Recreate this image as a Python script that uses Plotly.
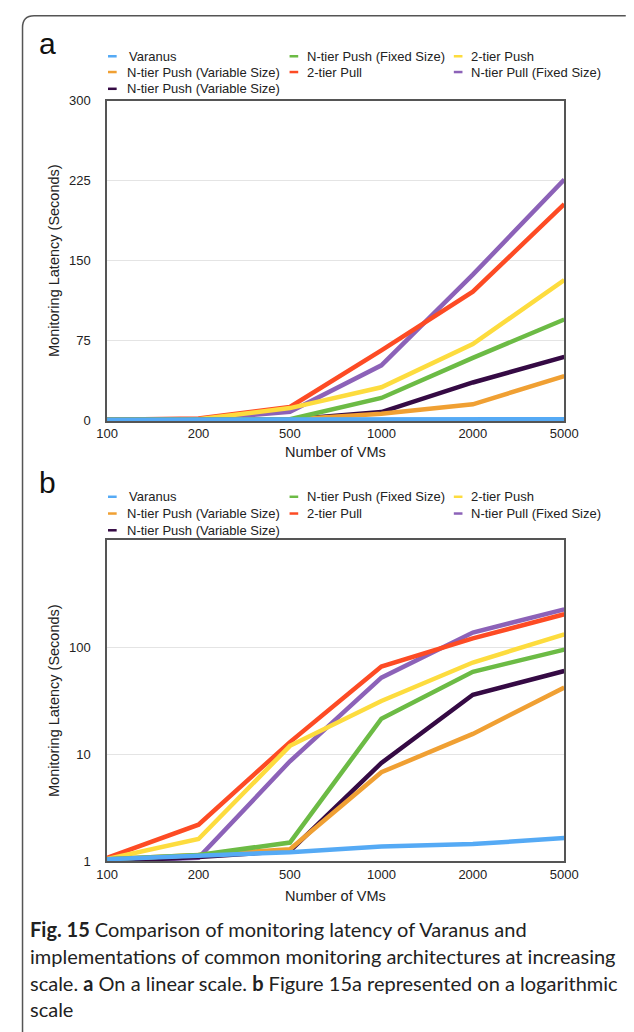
import plotly.graph_objects as go

# ---------------- data ----------------
vms = ['100', '200', '500', '1000', '2000', '5000']
legend_names = ['Varanus', 'N-tier Push (Fixed Size)', '2-tier Push',
                'N-tier Push (Variable Size)', '2-tier Pull', 'N-tier Pull (Fixed Size)',
                'N-tier Push (Variable Size)']
varanus = [1.05, 1.12, 1.22, 1.38, 1.45, 1.65]
ntier_push_fixed = [1.05, 1.15, 1.5, 21.5, 59, 95]
two_tier_push = [1.05, 1.62, 12, 31.5, 72, 132]
ntier_push_var_a = [1.05, 1.15, 1.3, 6.8, 15.5, 42]
two_tier_pull = [1.08, 2.2, 13, 66, 121, 203]
ntier_pull_fixed = [1.0, 1.08, 8.6, 52, 137, 226]
ntier_push_var_b = [1.0, 1.1, 1.25, 8.3, 36, 60]
series = [varanus, ntier_push_fixed, two_tier_push, ntier_push_var_a,
          two_tier_pull, ntier_pull_fixed, ntier_push_var_b]
colors = ['#55aaf5', '#6cbb45', '#fddc3e', '#f0a033', '#fd4b24', '#8c62b8', '#350a44']
draw_order = [5, 4, 2, 6, 3, 1, 0]
lin_ticks = [0, 75, 150, 225, 300]
log_ticks = [1, 10, 100]

W, H = 634, 1032
def px(x):
    return x / W
def py(y):
    return 1 - y / H

fig = go.Figure()
for ax in ['1', '2']:
    for i in draw_order:
        fig.add_trace(go.Scatter(
            x=vms, y=series[i], mode='lines', name=legend_names[i],
            line=dict(color=colors[i], width=4.5),
            showlegend=False,
            xaxis='x' if ax == '1' else 'x2', yaxis='y' if ax == '1' else 'y2'))

axis_common = dict(showline=True, mirror=True, linecolor='#555555', linewidth=1.5,
                   ticks='', tickfont=dict(family='Liberation Sans, Arial', size=13, color='#222'),
                   zeroline=False)
fig.update_layout(
    width=W, height=H, margin=dict(l=0, r=0, t=0, b=0),
    paper_bgcolor='white', plot_bgcolor='white', showlegend=False,
    xaxis=dict(type='category', categoryorder='array', categoryarray=vms, range=[0, 5],
               domain=[px(100), px(576)], anchor='y', showgrid=False, **axis_common),
    yaxis=dict(range=[0, 300], tickvals=lin_ticks, domain=[py(420), py(95)], anchor='x',
               showgrid=True, gridcolor='#e4e4e4', gridwidth=1, ticklabelstandoff=12,
               **axis_common),
    xaxis2=dict(type='category', categoryorder='array', categoryarray=vms, range=[0, 5],
                domain=[px(100), px(576)], anchor='y2', showgrid=False, **axis_common),
    yaxis2=dict(type='log', range=[0, 3], tickvals=log_ticks, ticktext=[str(t) for t in log_ticks],
                domain=[py(867), py(541)], anchor='x2',
                showgrid=True, gridcolor='#e4e4e4', gridwidth=1, ticklabelstandoff=12,
                **axis_common),
)

ann = []
shapes = []
font_lbl = dict(family='Liberation Sans, Arial', size=13, color='#222')
font_title = dict(family='Liberation Sans, Arial', size=14.5, color='#222')

def add_text(text, x, y, xanchor='center', font=font_lbl, **kw):
    ann.append(dict(text=text, x=px(x), y=py(y), xref='paper', yref='paper',
                    xanchor=xanchor, yanchor='middle', showarrow=False, font=font, **kw))

# panel letters
for letter, y in [('a', 37), ('b', 483)]:
    add_text(letter, 38, y, font=dict(family='Liberation Sans, Arial', size=30, color='#111'))

# axis titles
for (yc, xt_y) in [((95 + 420) / 2, 452), ((541 + 867) / 2, 902)]:
    add_text('Monitoring Latency (Seconds)', 45, yc, font=font_title, textangle=-90)
    add_text('Number of VMs', 338, xt_y, font=font_title)

# legends (manual, three columns)
col_dash = [101, 290, 461]
col_text = [119, 306, 477]
for rows in [[50, 66, 83], [497, 514, 531]]:
    for k, name in enumerate(legend_names):
        r, c = divmod(k, 3)
        y = rows[r]
        shapes.append(dict(type='line', xref='paper', yref='paper',
                           x0=px(col_dash[c]), x1=px(col_dash[c] + 9), y0=py(y), y1=py(y),
                           line=dict(color=colors[k], width=2.5)))
        tx = col_text[c] + (2 if name == 'Varanus' else 0)
        add_text(name, tx, y, xanchor='left')

# caption
cap_font = dict(family='Lato, Open Sans, sans-serif', size=20, color='#222')
caption_lines = [
    '<b>Fig. 15</b> Comparison of monitoring latency of Varanus and',
    'implementations of common monitoring architectures at increasing',
    'scale. <b>a</b> On a linear scale. <b>b</b> Figure 15a represented on a logarithmic',
    'scale',
]
for i, line in enumerate(caption_lines):
    add_text(line, 18, 936 + 27 * i, xanchor='left', font=cap_font)

# outer frame
shapes.append(dict(type='path', xref='paper', yref='paper',
                   path=f'M {px(640)} {py(9)} L {px(24)} {py(9)} Q {px(12)} {py(9)} {px(12)} {py(21)} L {px(12)} {py(1040)}',
                   line=dict(color='#555555', width=1.5)))

fig.update_layout(annotations=ann, shapes=shapes)
fig.write_html('out.html',
               post_script="document.body.style.margin='0';document.body.style.overflow='hidden';")
